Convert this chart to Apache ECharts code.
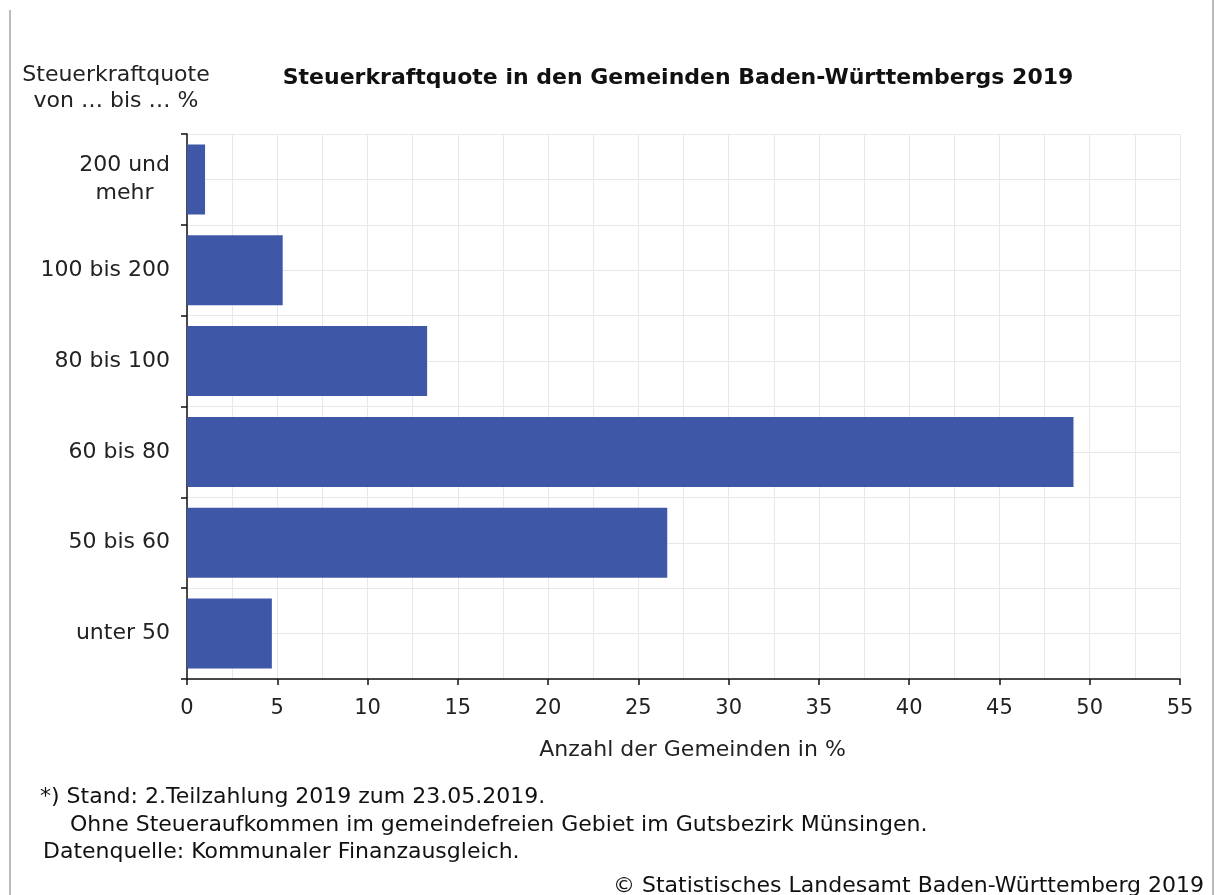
<!DOCTYPE html>
<html>
<head>
<meta charset="utf-8">
<script src="https://cdn.jsdelivr.net/npm/echarts@6/dist/echarts.min.js"></script>
<style>
html, body { margin: 0; padding: 0; background: #fff; }
#main { width: 1217px; height: 895px; }
</style>
</head>
<body>
<div id="main"></div>
<script>
// Steuerkraftquote in den Gemeinden BW 2019
var kategorien = ['200 und mehr', '100 bis 200', '80 bis 100', '60 bis 80', '50 bis 60', 'unter 50'];
var anteile = [1.0, 5.3, 13.3, 49.1, 26.6, 4.7];
var xTicks = [0, 5, 10, 15, 20, 25, 30, 35, 40, 45, 50, 55];

var myChart = echarts.init(document.getElementById('main'));
var schrift = 'DejaVu Sans';

option = {
    backgroundColor: '#fff',
    animation: false,
    title: {
        text: 'Steuerkraftquote in den Gemeinden Baden-Württembergs 2019',
        left: 673,
        top: 62,
        textAlign: 'center',
        textStyle: { fontFamily: schrift, fontSize: 22, fontWeight: 'bold', color: '#111' }
    },
    grid: { left: 187, right: 37, top: 134, bottom: 216 },
    xAxis: {
        type: 'value',
        min: xTicks[0],
        max: xTicks[xTicks.length - 1],
        interval: 5,
        name: 'Anzahl der Gemeinden in %',
        nameLocation: 'middle',
        nameGap: 60,
        nameTextStyle: { fontFamily: schrift, fontSize: 22, color: '#222', padding: [0, 0, 0, 18] },
        axisLine: { show: true, lineStyle: { color: '#111', width: 1.5 } },
        axisTick: { show: true, length: 6, lineStyle: { color: '#111', width: 1.5 } },
        axisLabel: { fontFamily: schrift, fontSize: 21, color: '#222', margin: 19 },
        splitLine: { show: true, lineStyle: { color: '#e8e8e8' } },
        minorTick: { show: false, splitNumber: 2 },
        minorSplitLine: { show: true, lineStyle: { color: '#e8e8e8' } }
    },
    yAxis: [{
        type: 'category',
        inverse: true,
        data: kategorien,
        axisLine: { show: true, lineStyle: { color: '#111', width: 1.5 } },
        axisTick: { show: true, length: 6, lineStyle: { color: '#111', width: 1.5 } },
        axisLabel: {
            margin: 17,
            formatter: function (v) {
                if (v === '200 und mehr') return '{a|200 und}\n{a|mehr}';
                return '{b|' + v + '}';
            },
            rich: {
                a: { fontFamily: schrift, fontSize: 22, color: '#222', align: 'center', lineHeight: 28 },
                b: { fontFamily: schrift, fontSize: 22, color: '#222' }
            }
        },
        splitLine: { show: false }
    }, {
        type: 'value',
        min: 0,
        max: 12,
        interval: 1,
        position: 'right',
        axisLine: { show: false },
        axisTick: { show: false },
        axisLabel: { show: false },
        splitLine: { show: true, lineStyle: { color: '#e8e8e8' } }
    }],
    series: [{
        name: 'Anteil',
        type: 'bar',
        yAxisIndex: 0,
        data: anteile,
        barCategoryGap: '23%',
        itemStyle: { color: '#3f57a7' }
    }],
    graphic: [
        { type: 'line', shape: { x1: 10, y1: 10, x2: 10, y2: 895 }, style: { stroke: '#bbb', lineWidth: 2 } },
        { type: 'line', shape: { x1: 1213, y1: 0, x2: 1213, y2: 895 }, style: { stroke: '#bbb', lineWidth: 2 } },
        {
            type: 'text', x: 116, y: 62,
            style: { text: 'Steuerkraftquote\nvon … bis … %', textAlign: 'center', fontFamily: schrift, fontSize: 22, lineHeight: 26, fill: '#222' }
        },
        {
            type: 'text', x: 40, y: 786,
            style: { text: '*) Stand: 2.Teilzahlung 2019 zum 23.05.2019.', fontFamily: schrift, fontSize: 22, fill: '#111' }
        },
        {
            type: 'text', x: 70, y: 814,
            style: { text: 'Ohne Steueraufkommen im gemeindefreien Gebiet im Gutsbezirk Münsingen.', fontFamily: schrift, fontSize: 22, fill: '#111' }
        },
        {
            type: 'text', x: 43, y: 841,
            style: { text: 'Datenquelle: Kommunaler Finanzausgleich.', fontFamily: schrift, fontSize: 22, fill: '#111' }
        },
        {
            type: 'text', x: 1204, y: 875,
            style: { text: '© Statistisches Landesamt Baden-Württemberg 2019', textAlign: 'right', fontFamily: schrift, fontSize: 22, fill: '#111' }
        }
    ]
};

if (option && typeof option === "object") {
    myChart.setOption(option, true);
}
</script>
</body>
</html>
